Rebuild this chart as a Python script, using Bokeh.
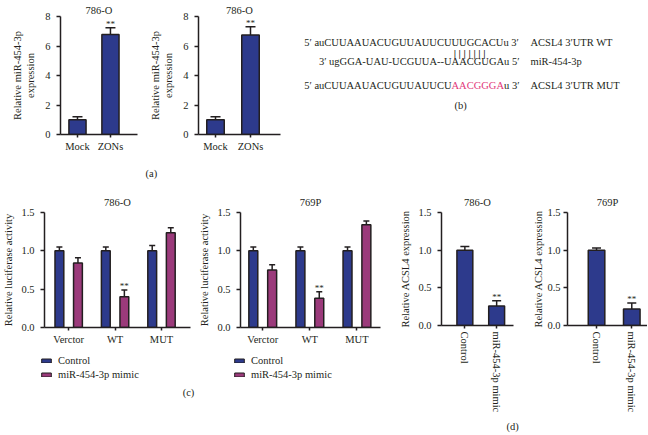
from bokeh.plotting import figure
from bokeh.layouts import row, column
from bokeh.models import (Range1d, FixedTicker, NumeralTickFormatter, ColumnDataSource,
                          Whisker, TeeHead, Legend, LegendItem, Title)
from bokeh.core.properties import value
from bokeh.embed import file_html
from bokeh.resources import INLINE

# ---------------- data ----------------
a_labels = ["Mock", "ZONs"]
a1_title = "786-O"
a2_title = "786-O"
a1_vals = [1.0, 6.78]
a1_err = [0.20, 0.45]
a2_vals = [1.0, 6.75]
a2_err = [0.20, 0.55]
a_sig = ["", "**"]
a_ticks = [0, 2, 4, 6, 8]

c_labels = ["Verctor", "WT", "MUT"]
c_series = ["Control", "miR-454-3p mimic"]
c1_title = "786-O"
c2_title = "769P"
c1_ctrl = [1.0, 1.0, 1.0]
c1_ctrl_err = [0.05, 0.05, 0.07]
c1_mimic = [0.84, 0.40, 1.235]
c1_mimic_err = [0.07, 0.09, 0.065]
c2_ctrl = [1.0, 1.0, 1.0]
c2_ctrl_err = [0.05, 0.05, 0.05]
c2_mimic = [0.75, 0.38, 1.34]
c2_mimic_err = [0.07, 0.085, 0.05]
c_ctrl_sig = ["", "", ""]
c_mimic_sig = ["", "**", ""]
cd_ticks = [0.0, 0.5, 1.0, 1.5]

d_labels = ["Control", "miR-454-3p mimic"]
d1_title = "786-O"
d2_title = "769P"
d1_vals = [1.0, 0.26]
d1_err = [0.05, 0.07]
d2_vals = [1.0, 0.22]
d2_err = [0.03, 0.08]
d_sig = ["", "**"]

b_wt_prefix = "5\u2032 auCUUAAUACUGUUAUUCU"
b_wt_site = "UUGCACUu 3\u2032"
b_mir = "3\u2032 ugGGA-UAU-UCGUUA--UAACGUGAu 5\u2032"
b_pairs = "|  |  |  |  |  |  |"
b_mut_prefix = "5\u2032 auCUUAAUACUGUUAUUCU"
b_mut_site = "AACGGGA"
b_mut_suffix = "u 3\u2032"
b_names = ["ACSL4 3\u2032UTR WT", "miR-454-3p", "ACSL4 3\u2032UTR MUT"]

# ---------------- style ----------------
FONT = "Liberation Serif"
FS = "10.5px"
INK = "#231f20"
BLUE = "#2D3A8C"
MAG = "#9B3A7B"
PINK = "#E2377A"
NAN = float("nan")


def make_fig(width, height, xr, yr, yticks, left, right, top, bottom, title, standoff, ylabel,
             tick_standoff=6, label_standoff=4, yfmt=None):
    p = figure(width=width, height=height, x_range=Range1d(*xr), y_range=Range1d(*yr),
               output_backend="svg", toolbar_location=None, title=title,
               min_border_left=left, min_border_right=right,
               min_border_top=top, min_border_bottom=bottom)
    p.outline_line_color = None
    p.xgrid.visible = False
    p.ygrid.visible = False
    t = p.title
    t.align = "center"
    t.text_font = FONT
    t.text_font_size = FS
    t.text_font_style = "normal"
    t.text_color = INK
    t.standoff = standoff
    for ax in p.axis:
        ax.axis_line_width = 1.5
        ax.axis_line_color = INK
        ax.major_tick_line_width = 1.5
        ax.major_tick_line_color = INK
        ax.major_tick_in = 0
        ax.major_tick_out = 4
        ax.minor_tick_line_color = None
        ax.major_label_text_font = FONT
        ax.major_label_text_font_size = FS
        ax.major_label_text_color = INK
        ax.axis_label_text_font = FONT
        ax.axis_label_text_font_size = FS
        ax.axis_label_text_font_style = "normal"
        ax.axis_label_text_color = INK
        ax.major_label_standoff = 3
    p.xaxis.major_tick_out = 3
    p.yaxis.major_label_standoff = tick_standoff
    p.yaxis.ticker = FixedTicker(ticks=yticks)
    p.yaxis.axis_label = ylabel
    p.yaxis.axis_label_standoff = label_standoff
    if yfmt:
        p.yaxis.formatter = NumeralTickFormatter(format=yfmt)
    return p


def bars(p, xs, vals, errs, sig, color, width, cap):
    src = ColumnDataSource(dict(x=xs, top=vals,
                                lower=vals,
                                upper=[v + e for v, e in zip(vals, errs)],
                                sig=sig))
    r = p.vbar(x="x", top="top", bottom=0, width=width, source=src,
               fill_color=color, line_color=INK, line_width=1.5)
    w = Whisker(source=src, base="x", lower="lower", upper="upper", dimension="height",
                line_color=INK, line_width=1.5,
                upper_head=TeeHead(size=cap, line_color=INK, line_width=1.5), lower_head=None)
    p.add_layout(w)
    p.text(x="x", y="upper", text="sig", source=src, text_align="center",
           text_baseline="bottom", y_offset=1, text_font=value(FONT),
           text_font_size="9px", text_color=INK)
    return r


def set_xlabels(p, labels, positions):
    p.xaxis.ticker = FixedTicker(ticks=positions)
    p.xaxis.major_label_overrides = {pos: lab for pos, lab in zip(positions, labels)}


def letter(p, text, offset, standoff):
    t = Title(text=text, align="left", offset=offset, standoff=standoff,
              text_font=FONT, text_font_size=FS, text_font_style="normal", text_color=INK)
    p.add_layout(t, "below")


def blank_fig(width, height, xr, yr, top=0, bottom=0):
    p = figure(width=width, height=height, x_range=Range1d(*xr), y_range=Range1d(*yr),
               x_axis_type=None, y_axis_type=None, output_backend="svg",
               toolbar_location=None, min_border_left=0, min_border_right=0,
               min_border_top=top, min_border_bottom=bottom)
    p.outline_line_color = None
    p.xgrid.visible = False
    p.ygrid.visible = False
    return p


TOP_H = 189
C_H = 158
LEG_H = 87
BOT_H = C_H + LEG_H

# ---------------- panel (a) ----------------
a_pos = [i + 1 for i in range(len(a_labels))]
a_ylabel = "Relative miR-454-3p\nexpression"

pa1 = make_fig(145, TOP_H, (0.485, 2.82), (0, 8), a_ticks, 60, 8, 16, 53, a1_title, 2, a_ylabel,
               tick_standoff=6, label_standoff=6)
bars(pa1, a_pos, a1_vals, a1_err, a_sig, BLUE, 0.52, 10)
set_xlabels(pa1, a_labels, a_pos)

pa2 = make_fig(145, TOP_H, (0.514, 2.857), (0, 8), a_ticks, 53, 10, 16, 53, a2_title, 2, a_ylabel,
               tick_standoff=6, label_standoff=6)
bars(pa2, a_pos, a2_vals, a2_err, a_sig, BLUE, 0.5, 10)
set_xlabels(pa2, a_labels, a_pos)
letter(pa2, "(a)", -53, 22)

# ---------------- panel (b) ----------------
# frame of this panel spans page x 290..647 and page y 16..136 (aligned with panel (a) frames)
pb = blank_fig(357, TOP_H, (290, 647), (136, 16), top=16, bottom=53)

XS = 451.0      # start of binding site
XE = 519.0      # end of sequence lines
XN = 530.0      # name column
Y1, YP, Y2, Y3, YB = 42, 54, 62, 86, 106
tkw = dict(text_baseline="middle", text_font=value(FONT), text_font_size=FS)
pb.text(x=[XS, XS], y=[Y1, Y3], text=[b_wt_prefix, b_mut_prefix], text_align="right",
        text_color=INK, **tkw)
pb.text(x=[XS], y=[Y1], text=[b_wt_site], text_align="left", text_color=INK, **tkw)
pb.text(x=[XS], y=[Y3], text=[b_mut_site], text_align="left", text_color=PINK, **tkw)
pb.text(x=[XS + 52.5], y=[Y3], text=[b_mut_suffix], text_align="left", text_color=INK, **tkw)
pb.text(x=[XE], y=[Y2], text=[b_mir], text_align="right", text_color=INK, **tkw)
pb.text(x=[XS + 26.0], y=[YP], text=[b_pairs], text_align="center", text_color=INK,
        text_baseline="middle", text_font=value(FONT), text_font_size=FS,
        text_font_style="bold")
pb.text(x=[XN, XN, XN], y=[Y1, Y2, Y3], text=b_names, text_align="left", text_color=INK, **tkw)
pb.text(x=[460], y=[YB], text=["(b)"], text_align="center", text_color=INK, **tkw)

# ---------------- panel (c) ----------------
c_pos = [i + 1 for i in range(len(c_labels))]
c_ctrl_x = [x - 0.2 for x in c_pos]
c_mimic_x = [x + 0.2 for x in c_pos]


def c_panel(width, xr, left, right, title, ctrl, ctrl_err, mimic, mimic_err):
    p = make_fig(width, C_H, xr, (0, 1.5), cd_ticks, left, right, 23, 20, title, 10,
                 "Relative luciferase activity", yfmt="0.0")
    bars(p, c_ctrl_x, ctrl, ctrl_err, c_ctrl_sig, BLUE, 0.19, 6)
    bars(p, c_mimic_x, mimic, mimic_err, c_mimic_sig, MAG, 0.19, 6)
    set_xlabels(p, c_labels, c_pos)
    return p


pc1 = c_panel(196, (0.479, 3.625), 39, 6, c1_title, c1_ctrl, c1_ctrl_err, c1_mimic, c1_mimic_err)
pc2 = c_panel(201, (0.528, 3.50), 39, 17, c2_title, c2_ctrl, c2_ctrl_err, c2_mimic, c2_mimic_err)

# legend strip under panel (c): page coordinates x 0..397, y 347..434
pleg = blank_fig(397, LEG_H, (0, 397), (434, 347))
# swatch-only renderers (no visible mark: NaN position), used for the legend glyphs
sw_src = ColumnDataSource(dict(x=[NAN], top=[NAN]))
r_ctrl = pleg.vbar(x="x", top="top", width=1, source=sw_src,
                   fill_color=BLUE, line_color=INK, line_width=1)
r_mimic = pleg.vbar(x="x", top="top", width=1, source=sw_src,
                    fill_color=MAG, line_color=INK, line_width=1)
for lx in (40, 233):
    leg = Legend(items=[LegendItem(label=c_series[0], renderers=[r_ctrl]),
                        LegendItem(label=c_series[1], renderers=[r_mimic])],
                 location=(lx, 53.5), orientation="vertical",
                 glyph_width=12, glyph_height=5, label_height=13, spacing=1,
                 padding=0, margin=0, border_line_color=None, background_fill_alpha=0,
                 label_text_font=FONT, label_text_font_size=FS, label_text_color=INK,
                 label_standoff=6)
    pleg.add_layout(leg)
pleg.text(x=[188], y=[392], text=["(c)"], text_align="center", text_color=INK, **tkw)

# ---------------- panel (d) ----------------
d_pos = [i + 1 for i in range(len(d_labels))]


def d_panel(width, xr, left, right, title, vals, errs, bw, tick_standoff, label_standoff):
    p = make_fig(width, BOT_H, xr, (0, 1.5), cd_ticks, left, right, 23, 107, title, 10,
                 "Relative ACSL4 expression", tick_standoff=tick_standoff,
                 label_standoff=label_standoff, yfmt="0.0")
    bars(p, d_pos, vals, errs, d_sig, BLUE, bw, 9)
    set_xlabels(p, d_labels, d_pos)
    p.xaxis.major_label_orientation = "vertical"
    return p


pd1 = d_panel(133, (0.265, 2.53), 39, 17, d1_title, d1_vals, d1_err, 0.5, 6, 4)
letter(pd1, "(d)", 65, 6)
pd2 = d_panel(117, (0.176, 2.446), 32, 0, d2_title, d2_vals, d2_err, 0.47, 3, 0)

layout = column(row(pa1, pa2, pb),
                row(column(row(pc1, pc2), pleg), row(pd1, pd2)))

open("out.html", "w").write(file_html(layout, INLINE))
